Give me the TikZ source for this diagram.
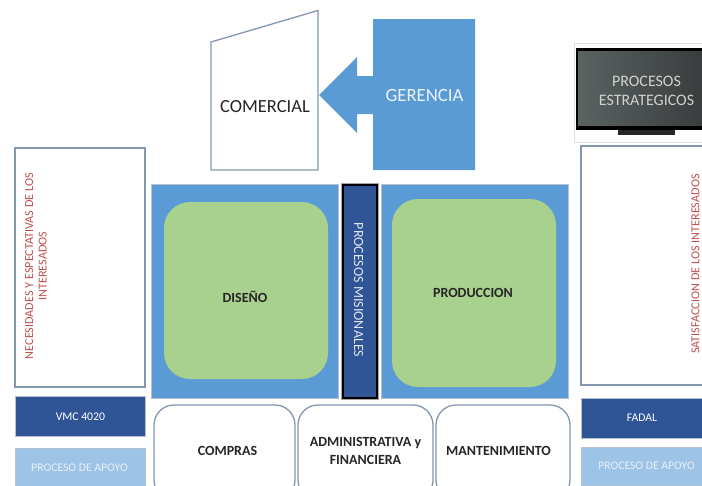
\documentclass[tikz,border=0pt]{standalone}
\usepackage{fontspec}
\setmainfont{Carlito}
\definecolor{midblue}{HTML}{5B9BD5}
\definecolor{navy}{HTML}{2F5597}
\definecolor{paleblue}{HTML}{9DC3E6}
\definecolor{leaf}{HTML}{A9D18E}
\definecolor{edge}{HTML}{8497B0}
\definecolor{redtxt}{HTML}{C0504D}
\definecolor{inktxt}{HTML}{262626}
\definecolor{screenl}{HTML}{5A6262}
\definecolor{screenr}{HTML}{3A3D3D}
\tikzset{
  x=1pt,y=-1pt,
  outlinebox/.style={draw=edge,line width=1.3pt,fill=white},
  bluebox/.style={fill=midblue,draw=edge!60,line width=.8pt},
  navybox/.style={fill=navy,draw=edge!60,line width=.8pt},
  palebox/.style={fill=paleblue,draw=edge!60,line width=.8pt},
  greenbox/.style={fill=leaf,rounded corners=26pt},
  supportbox/.style={outlinebox,rounded corners=20pt},
  lighttxt/.style={text=white,font=\fontsize{11.7}{14}\selectfont,align=center,inner sep=0},
  boldtxt/.style={text=inktxt,font=\fontsize{14}{18}\selectfont\bfseries,align=center,inner sep=0},
  redlabel/.style={text=redtxt,font=\fontsize{12.2}{13.5}\selectfont,align=center,inner sep=0,rotate=90},
}
\begin{document}
\begin{tikzpicture}
\useasboundingbox (0,0) rectangle (702,485);
% top
\draw[outlinebox] (211,42) -- (318,10.5) -- (318,170) -- (211,170) -- cycle;
\node[text=inktxt,font=\fontsize{18.5}{20}\selectfont,inner sep=0] (comercial) at (265,107) {COMERCIAL};
\fill[midblue] (373,19) -- (475,19) -- (475,170) -- (373,170) -- (373,114) -- (357,114) -- (357,133) -- (319,95) -- (357,57) -- (357,76) -- (373,76) -- cycle;
\node[text=white!88!midblue,font=\fontsize{18.7}{20}\selectfont,inner sep=0] (gerencia) at (424.5,95) {GERENCIA};
% monitor
\draw[draw=black!12,fill=white,line width=1pt] (574.5,43.5) rectangle (703,142);
\fill[black] (576,48) rectangle (702,130);
\shade[left color=screenl,right color=screenr] (578,51) rectangle (702,125.5);
\fill[black!85] (618,130) rectangle (675,135);
\node[text=black!18,font=\fontsize{16}{19}\selectfont,align=center,inner sep=0] (estrat) at (646.5,90.5) {PROCESOS\\ESTRATEGICOS};
% left column
\draw[outlinebox] (15,148) rectangle (145,387);
\node[redlabel] (necesidades) at (36,266) {NECESIDADES Y ESPECTATIVAS DE LOS\\INTERESADOS};
\node[navybox,minimum width=130pt,minimum height=40pt,anchor=north west] (vmc) at (15,396) {};
\node[lighttxt] at (vmc.center) {VMC 4020};
\node[palebox,minimum width=130pt,minimum height=38pt,anchor=north west] (apoyoa) at (15,448) {};
\node[lighttxt,text=white!75!paleblue] at (79.5,468) {PROCESO DE APOYO};
% centre
\draw[bluebox] (151,184) rectangle (338,398);
\fill[greenbox] (164,202) rectangle (328,379);
\node[boldtxt] (diseno) at (245,297) {DISEÑO};
\draw[bluebox] (381,184) rectangle (568,398);
\fill[greenbox] (392,199) rectangle (556,387);
\node[boldtxt] (produccion) at (473,293) {PRODUCCION};
\draw[draw=black!35,line width=.8pt] (341,183) rectangle (378.5,399);
\draw[fill=navy,draw=black,line width=2pt] (342.5,184.5) rectangle (377,398);
\node[lighttxt,rotate=-90,font=\fontsize{14}{16}\selectfont,text=white!85!navy] (misionales) at (358.5,290) {PROCESOS MISIONALES};
% support
\begin{scope}
\clip (0,0) rectangle (702,485);
\draw[supportbox] (154,405) rectangle (295,500);
\draw[supportbox] (298,405) rectangle (433,500);
\draw[supportbox] (436,405) rectangle (570,500);
\end{scope}
\node[boldtxt] (compras) at (227.5,451) {COMPRAS};
\node[boldtxt] (admin) at (365.5,451) {ADMINISTRATIVA y\\FINANCIERA};
\node[boldtxt] (mant) at (498.5,451) {MANTENIMIENTO};
% right column
\draw[outlinebox] (581,146) rectangle (703,385);
\node[redlabel] (satisf) at (695.5,264) {SATISFACCION DE LOS INTERESADOS};
\node[navybox,minimum width=122pt,minimum height=40pt,anchor=north west] (fadal) at (581,398) {};
\node[lighttxt] at (642,418) {FADAL};
\node[palebox,minimum width=122pt,minimum height=38pt,anchor=north west] (apoyob) at (581,447) {};
\node[lighttxt,text=white!75!paleblue] at (646.5,466) {PROCESO DE APOYO};
\end{tikzpicture}
\end{document}
